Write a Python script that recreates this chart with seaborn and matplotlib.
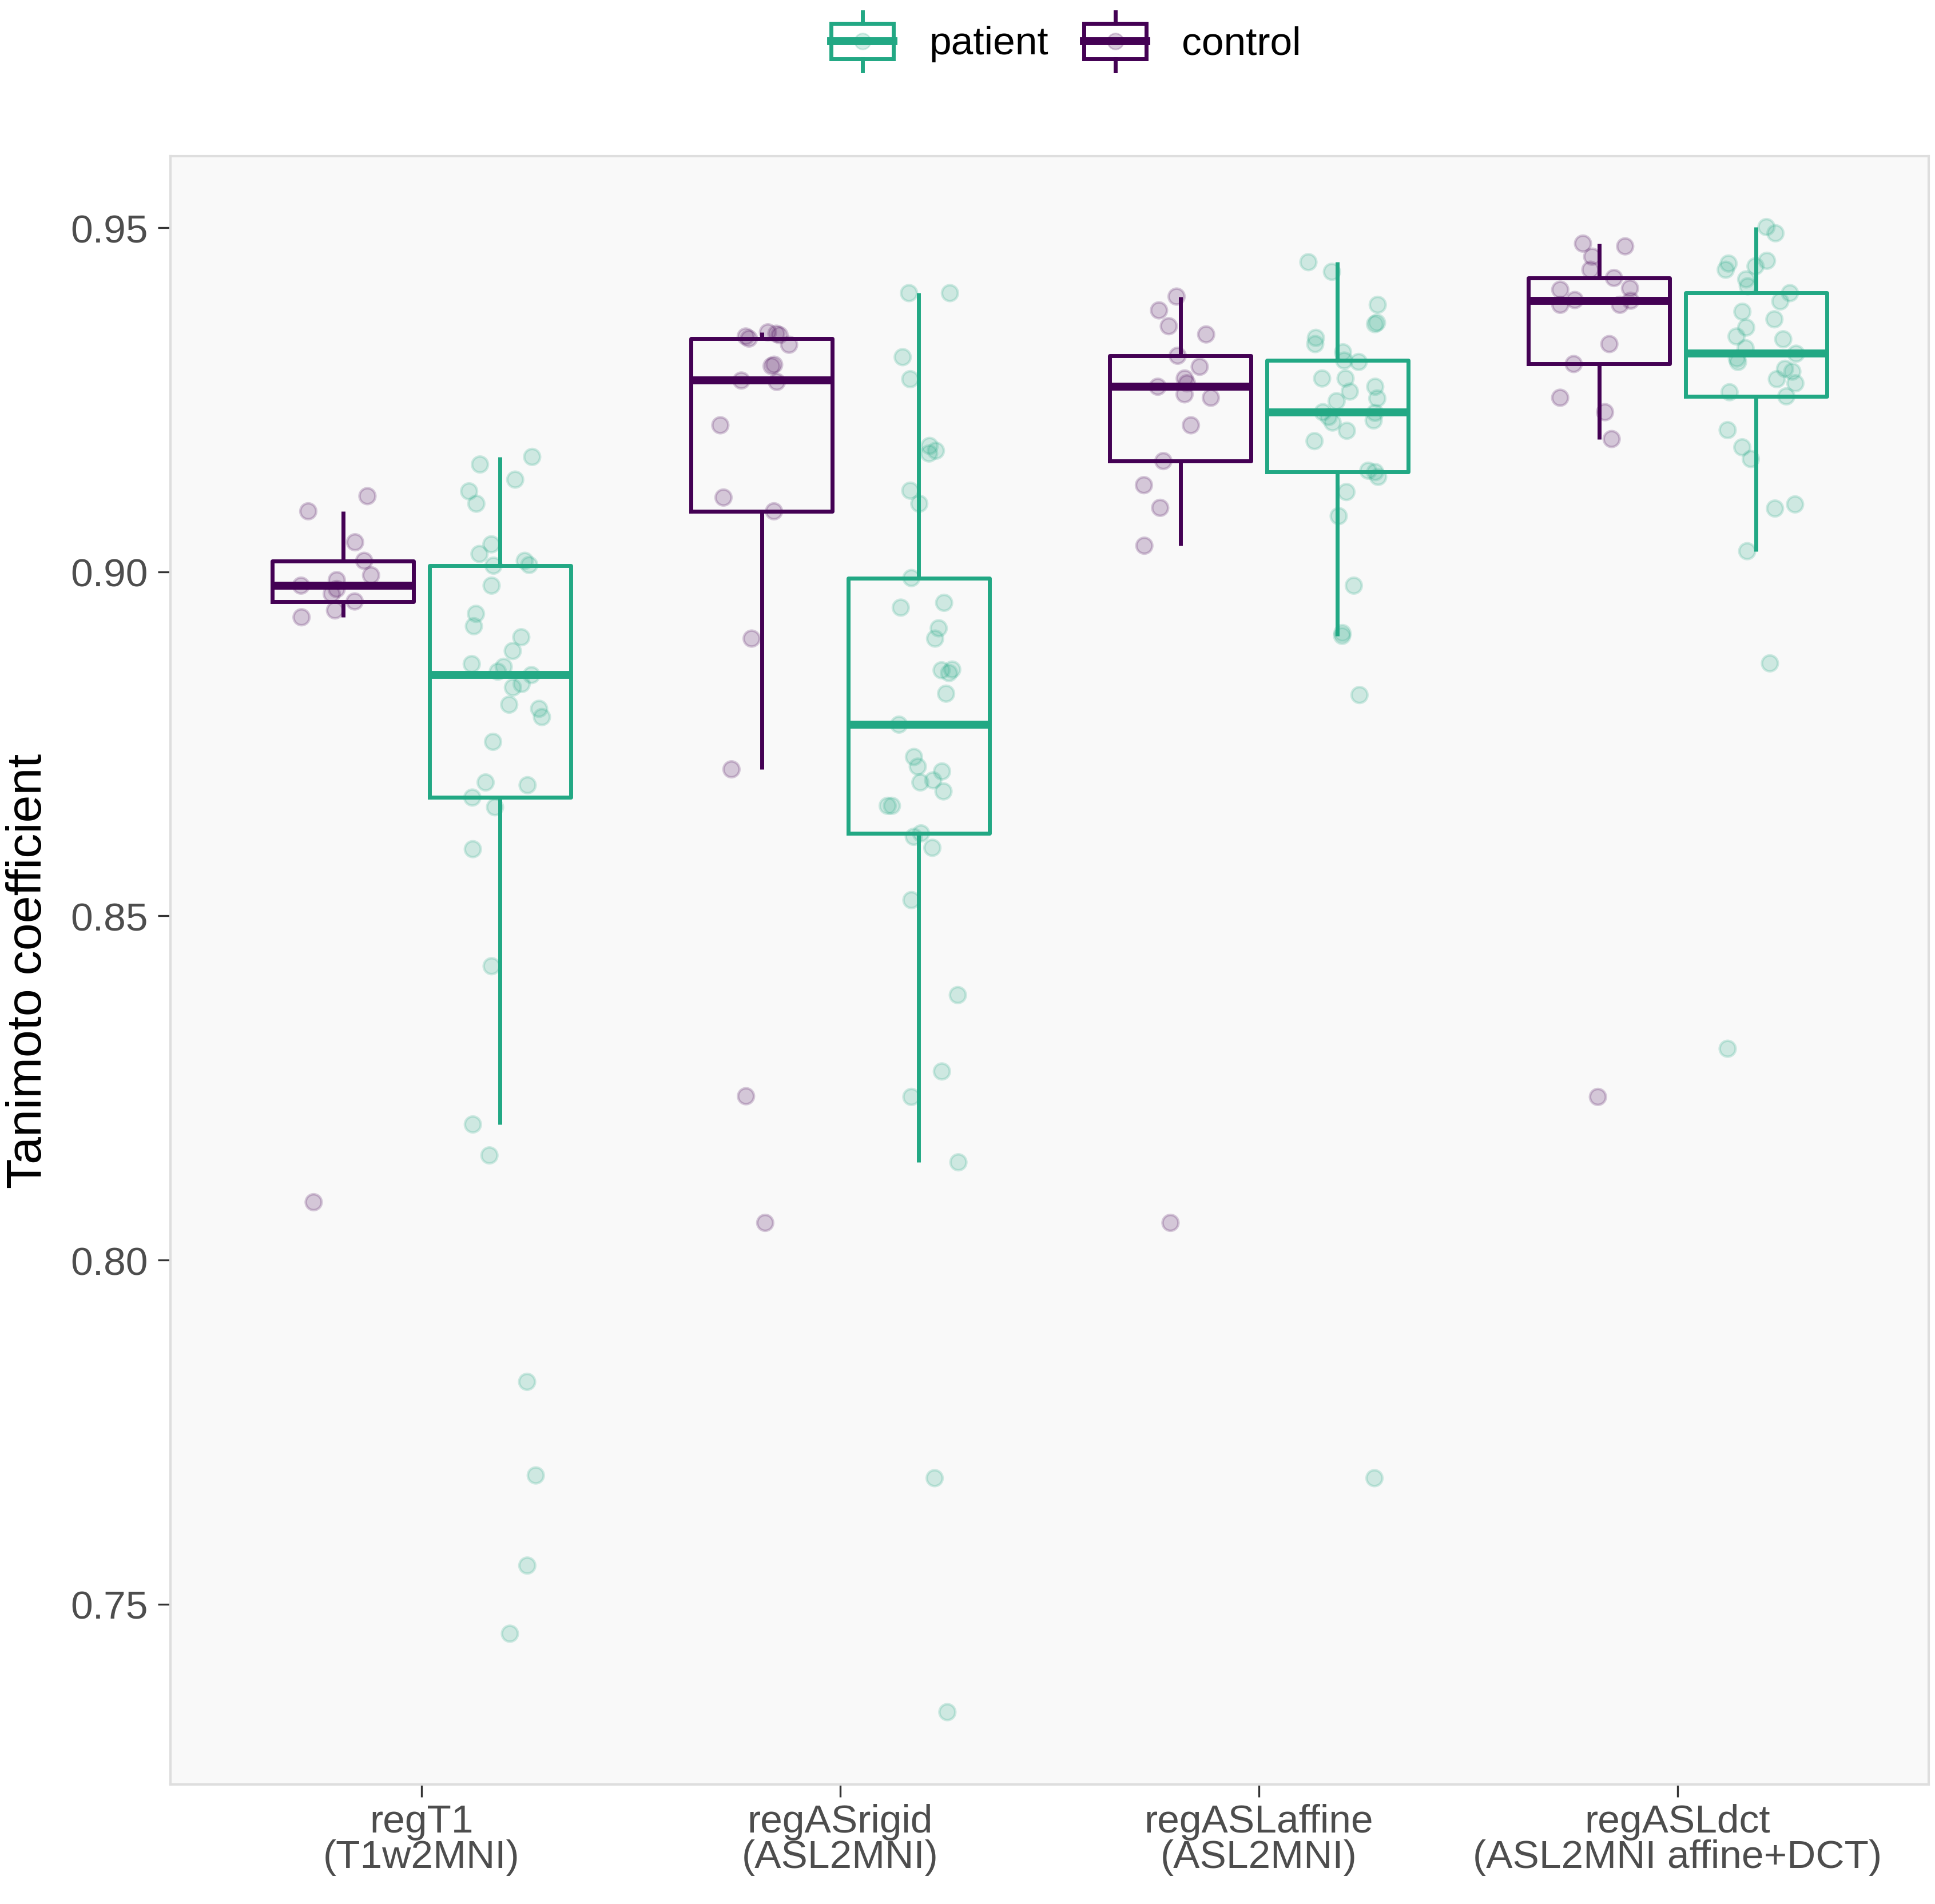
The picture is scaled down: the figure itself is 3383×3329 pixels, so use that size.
import numpy as np
import pandas as pd
import matplotlib
matplotlib.use("Agg")
import matplotlib.pyplot as plt
import seaborn as sns
from matplotlib.legend_handler import HandlerBase
from matplotlib.patches import Rectangle, Patch
from matplotlib.lines import Line2D

# ---------------- data ----------------
methods = ["regT1\n(T1w2MNI)", "regASrigid\n(ASL2MNI)",
           "regASLaffine\n(ASL2MNI)", "regASLdct\n(ASL2MNI affine+DCT)"]
groups = ["control", "patient"]
legend_order = ["patient", "control"]

t1_control = [0.8084, 0.8934, 0.8944, 0.8957, 0.8968, 0.8975, 0.8980, 0.8988,
              0.8995, 0.9016, 0.9043, 0.9088, 0.9110]
t1_patient = [0.9167, 0.9156, 0.9134, 0.9117, 0.9099, 0.9040, 0.9026, 0.9016,
              0.9010, 0.9009, 0.8980, 0.8939, 0.8921, 0.8905, 0.8885, 0.8866,
              0.8862, 0.8855, 0.8850, 0.8837, 0.8832, 0.8807, 0.8801, 0.8789,
              0.8753, 0.8694, 0.8690, 0.8672, 0.8658, 0.8597, 0.8427, 0.8197,
              0.8152, 0.7823, 0.7687, 0.7556, 0.7457]
rigid_control = [0.8054, 0.8238, 0.8713, 0.8903, 0.9088, 0.9108, 0.9213, 0.9276,
                 0.9278, 0.9299, 0.9301, 0.9330, 0.9339, 0.9342, 0.9344, 0.9346,
                 0.9348]
rigid_patient = [0.7343, 0.7683, 0.8142, 0.8237, 0.8274, 0.8385, 0.8523, 0.8599,
                 0.8615, 0.8620, 0.8660, 0.8660, 0.8681, 0.8694, 0.8697, 0.8710,
                 0.8717, 0.8731, 0.8778, 0.8823, 0.8853, 0.8857, 0.8858, 0.8903,
                 0.8918, 0.8948, 0.8955, 0.8991, 0.9099, 0.9118, 0.9172, 0.9176,
                 0.9183, 0.9280, 0.9312, 0.9405, 0.9405]
affine_control = [0.8054, 0.9038, 0.9093, 0.9126, 0.9161, 0.9213, 0.9253, 0.9258,
                  0.9269, 0.9274, 0.9281, 0.9298, 0.9314, 0.9345, 0.9357, 0.9380,
                  0.9400]
affine_patient = [0.7683, 0.8821, 0.8907, 0.8911, 0.8980, 0.9081, 0.9116, 0.9138,
                  0.9145, 0.9147, 0.9190, 0.9205, 0.9217, 0.9220, 0.9225, 0.9231,
                  0.9232, 0.9248, 0.9252, 0.9262, 0.9269, 0.9281, 0.9281, 0.9305,
                  0.9307, 0.9319, 0.9331, 0.9340, 0.9360, 0.9362, 0.9388, 0.9436,
                  0.9450]
dct_control = [0.8237, 0.9193, 0.9232, 0.9253, 0.9302, 0.9331, 0.9388, 0.9388,
               0.9394, 0.9395, 0.9410, 0.9412, 0.9427, 0.9439, 0.9458, 0.9473,
               0.9477]
dct_patient = [0.8307, 0.8867, 0.9030, 0.9092, 0.9098, 0.9164, 0.9181, 0.9206,
               0.9255, 0.9261, 0.9274, 0.9280, 0.9291, 0.9295, 0.9305, 0.9310,
               0.9317, 0.9325, 0.9338, 0.9342, 0.9355, 0.9367, 0.9378, 0.9393,
               0.9405, 0.9415, 0.9425, 0.9439, 0.9444, 0.9448, 0.9452, 0.9492,
               0.9501]

y_ticks = [0.75, 0.80, 0.85, 0.90, 0.95]
y_label = "Tanimoto coefficient"

series = {
    (methods[0], "control"): t1_control, (methods[0], "patient"): t1_patient,
    (methods[1], "control"): rigid_control, (methods[1], "patient"): rigid_patient,
    (methods[2], "control"): affine_control, (methods[2], "patient"): affine_patient,
    (methods[3], "control"): dct_control, (methods[3], "patient"): dct_patient,
}
rows = []
for (m, g), vals in series.items():
    for v in vals:
        rows.append({"method": m, "group": g, "value": v})
df = pd.DataFrame(rows)

# ---------------- style ----------------
palette = {"control": "#440154", "patient": "#22A884"}
plt.rcParams["font.family"] = ["Liberation Sans", "DejaVu Sans"]

fig = plt.figure(figsize=(16.915, 16.65), dpi=200)
ax = fig.add_axes([0.088, 0.0628, 0.9088, 0.8549])
ax.set_facecolor("#F9F9F9")

sns.boxplot(data=df, x="method", y="value", hue="group", order=methods,
            hue_order=groups, palette=palette, fill=False, width=0.75, gap=0.1,
            whis=1.5, showfliers=False, showcaps=False, linewidth=2.5,
            medianprops={"linewidth": 5.0}, legend=False, ax=ax)

n_before = len(ax.collections)
np.random.seed(11)
sns.stripplot(data=df, x="method", y="value", hue="group", order=methods,
              hue_order=groups, palette=palette, dodge=True, jitter=0.18,
              size=10, alpha=0.2, linewidth=0, legend=False, ax=ax, zorder=3)
for coll in ax.collections[n_before:]:
    coll.set_edgecolor(coll.get_facecolor())
    coll.set_linewidth(1.6)

ax.set_xlim(-0.6, 3.6)
ax.set_ylim(0.7238, 0.9604)
ax.set_yticks(y_ticks)
ax.set_yticklabels([f"{v:.2f}" for v in y_ticks])
ax.set_xlabel("")
ax.set_ylabel(y_label, fontsize=31, color="black", labelpad=12)
ax.tick_params(axis="both", length=8, width=1.2, color="#333333",
               labelcolor="#4D4D4D", labelsize=25)
ax.tick_params(axis="y", pad=6)
ax.tick_params(axis="x", pad=4)
for lab in ax.get_xticklabels():
    lab.set_linespacing(0.95)
for sp in ax.spines.values():
    sp.set_color("#DEDEDE")
    sp.set_linewidth(1.5)
ax.grid(False)


class BoxKeyHandler(HandlerBase):
    def create_artists(self, legend, orig_handle, xdescent, ydescent,
                       width, height, fontsize, trans):
        c = orig_handle.get_edgecolor()
        x0, y0 = -xdescent, -ydescent
        cx, cy = x0 + width / 2, y0 + height / 2
        bh = height * 0.6
        box = Rectangle((x0, cy - bh / 2), width, bh, facecolor="none",
                        edgecolor=c, linewidth=2.5, transform=trans)
        med = Line2D([x0, x0 + width], [cy, cy], color=c, linewidth=5.0,
                     transform=trans)
        wt = Line2D([cx, cx], [cy + bh / 2, y0 + height], color=c,
                    linewidth=2.5, transform=trans)
        wb = Line2D([cx, cx], [y0, cy - bh / 2], color=c, linewidth=2.5,
                    transform=trans)
        pt = Line2D([cx], [cy], marker="o", markersize=10, color=c,
                    alpha=0.2, linestyle="none", transform=trans)
        return [box, med, wt, wb, pt]


handles = [Patch(edgecolor=palette[g], facecolor="none") for g in legend_order]
fig.legend(handles, legend_order, handler_map={Patch: BoxKeyHandler()},
           loc="center", bbox_to_anchor=(0.551, 0.978), ncol=2, frameon=False,
           fontsize=25, handlelength=1.56, handleheight=1.9,
           handletextpad=0.9, columnspacing=0.9)

fig.savefig("out.png", dpi=200, facecolor="white")
